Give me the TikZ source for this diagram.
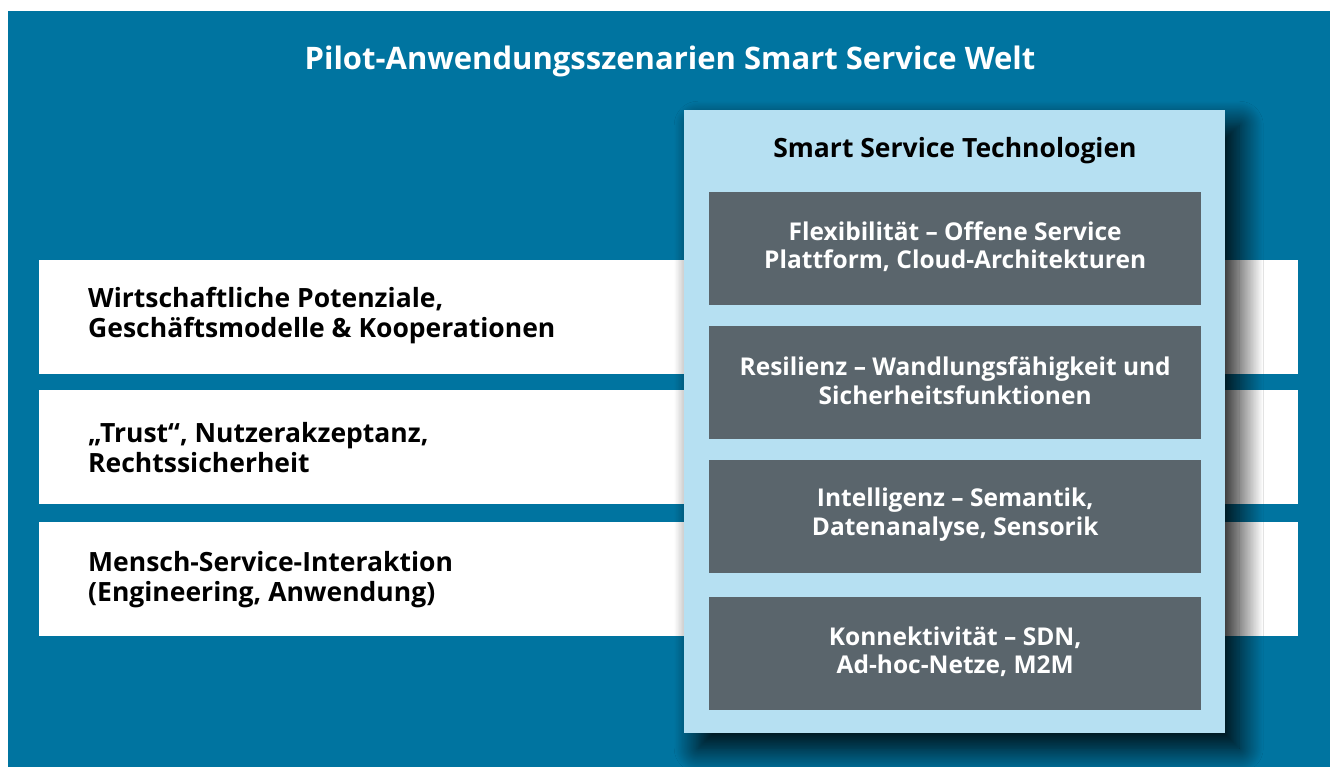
\documentclass[tikz,border=0pt]{standalone}
\usepackage{fontspec}
\setmainfont{Open Sans}
\usetikzlibrary{shadows.blur}
\definecolor{bgblue}{HTML}{0074A0}
\definecolor{techblue}{HTML}{B6E0F2}
\definecolor{techgray}{HTML}{5A656C}
\tikzset{
  bar/.style={fill=white, draw=none, minimum width=1259pt, minimum height=114pt, anchor=north west, inner sep=0pt},
  bartext/.style={anchor=west, align=left, text=black, font=\bfseries\fontsize{26.5}{30}\selectfont, inner sep=0pt},
  techbox/.style={fill=techblue, draw=none, minimum width=541pt, minimum height=623pt, anchor=north west, inner sep=0pt,
    blur shadow={shadow xshift=14pt, shadow yshift=-15pt, shadow blur radius=24pt, shadow blur steps=40, shadow opacity=95}},
  graybox/.style={fill=techgray, draw=none, minimum width=492pt, minimum height=113pt, anchor=north west, inner sep=0pt},
  graytext/.style={align=center, text=white, font=\bfseries\fontsize{24.5}{28.5}\selectfont, inner sep=0pt},
}
\begin{document}
\begin{tikzpicture}[x=1pt,y=-1pt]
\useasboundingbox (0,0) rectangle (1330,767);
\fill[white] (0,0) rectangle (1330,767);
\fill[bgblue] (8,11) rectangle (1330,767);
\node[text=white, font=\bfseries\fontsize{31}{36}\selectfont, inner sep=0pt] (title) at (670,61) {Pilot-Anwendungsszenarien Smart Service Welt};
% white bars
\node[bar] (b1) at (39,260) {};
\node[bar] (b2) at (39,390) {};
\node[bar] (b3) at (39,522) {};
\node[bartext] (t1) at (88,316) {Wirtschaftliche Potenziale,\\Geschäftsmodelle \& Kooperationen};
\node[bartext] (t2) at (88,448) {„Trust“, Nutzerakzeptanz,\\Rechtssicherheit};
\node[bartext] (t3) at (88,580) {Mensch-Service-Interaktion\\(Engineering, Anwendung)};
% technology box
\node[techbox] (tech) at (684,110) {};
\node[text=black, font=\bfseries\fontsize{26.5}{30}\selectfont, inner sep=0pt] (techtitle) at (955,151) {Smart Service Technologien};
\node[graybox] (g1) at (709,192) {};
\node[graybox] (g2) at (709,326) {};
\node[graybox] (g3) at (709,460) {};
\node[graybox] (g4) at (709,597) {};
\node[graytext] at ([yshift=2pt]g1.center) {Flexibilität – Offene Service\\Plattform, Cloud-Architekturen};
\node[graytext] at ([yshift=2pt]g2.center) {Resilienz – Wandlungsfähigkeit und\\Sicherheitsfunktionen};
\node[graytext] at ([yshift=2pt]g3.center) {Intelligenz – Semantik,\\Datenanalyse, Sensorik};
\node[graytext] at ([yshift=2pt]g4.center) {Konnektivität – SDN,\\Ad-hoc-Netze, M2M};
\end{tikzpicture}
\end{document}
